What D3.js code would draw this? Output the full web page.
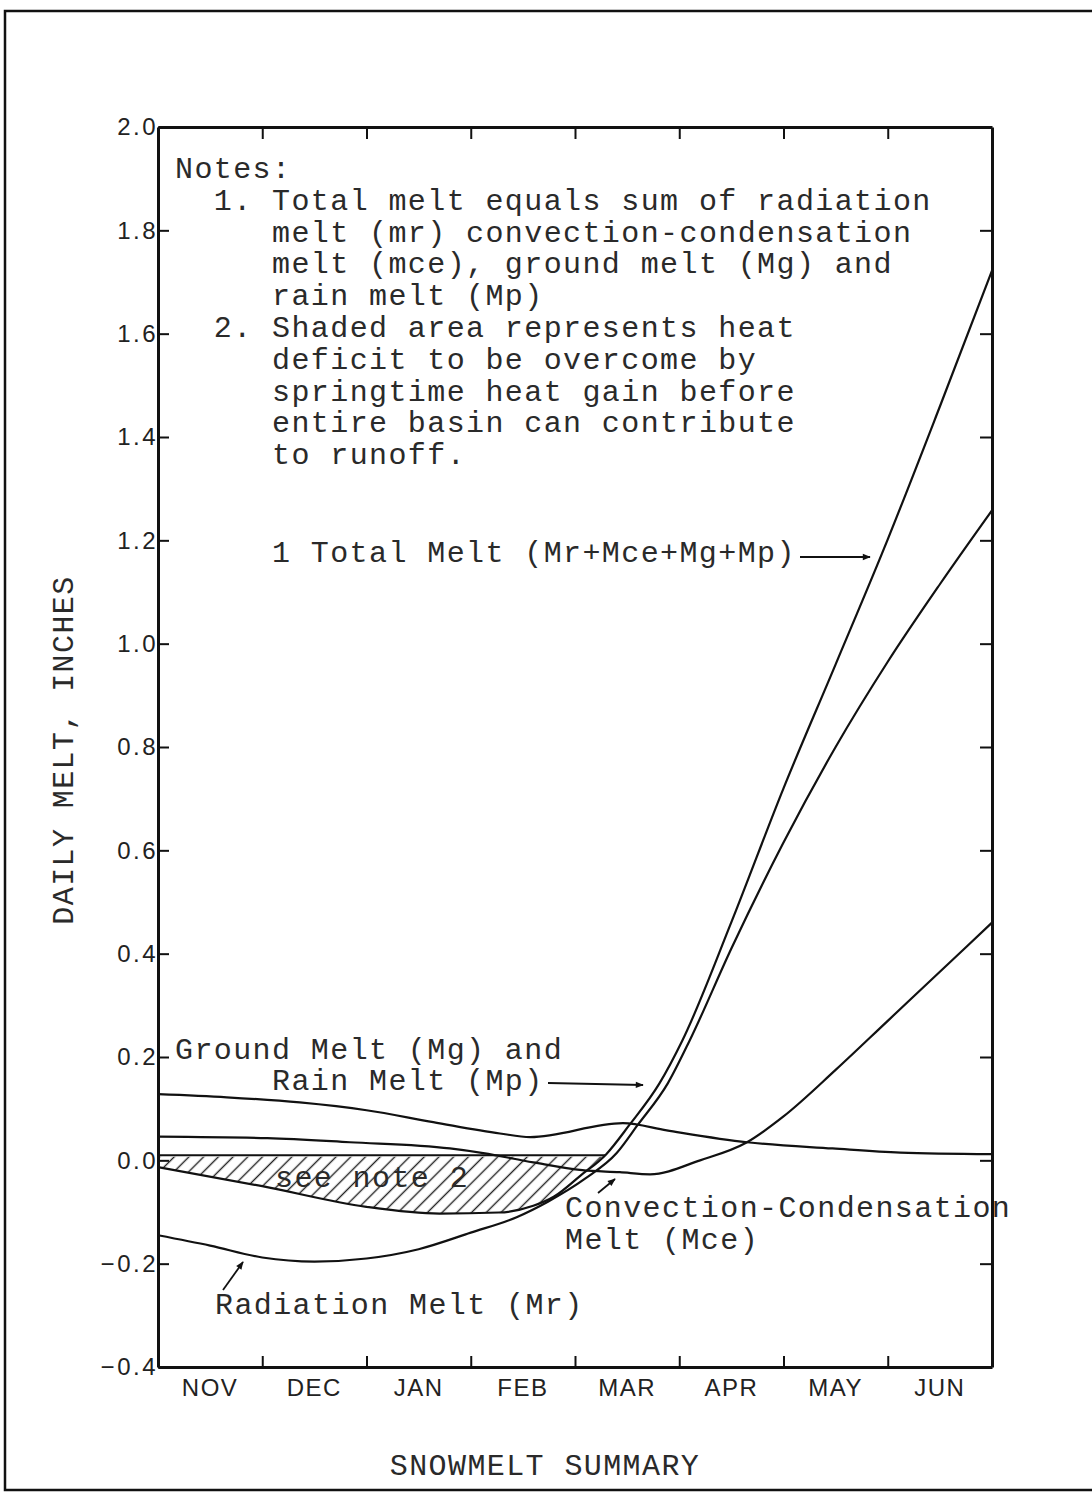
<!DOCTYPE html>
<html>
<head>
<meta charset="utf-8">
<script src="https://cdn.jsdelivr.net/npm/d3@7"></script>
<style>
  body { margin: 0; background: #fff; }
  svg { display: block; }
  .mono {
    font-family: "Liberation Mono", "DejaVu Sans Mono", monospace;
    font-size: 30px;
    letter-spacing: 1.4px;
    white-space: pre;
    fill: #2a2a2a;
  }
  .sans { font-family: "Liberation Sans", Arial, sans-serif; fill: #222; }
</style>
</head>
<body>
<div id="chart"></div>
<script>
// months run from start of NOV (0) to end of JUN (8)
const months = ["NOV", "DEC", "JAN", "FEB", "MAR", "APR", "MAY", "JUN"];
const monthEdges = [1, 2, 3, 4, 5, 6, 7];
const yTicks = [-0.4, -0.2, 0, 0.2, 0.4, 0.6, 0.8, 1.0, 1.2, 1.4, 1.6, 1.8, 2.0];

// ground melt + rain melt (Mg + Mp)
const groundRain = [
  [0, 0.128], [0.66, 0.122], [1.36, 0.112], [2.0, 0.097], [2.64, 0.074],
  [3.28, 0.052], [3.57, 0.045], [4.46, 0.072], [4.88, 0.058], [5.65, 0.035],
  [6.47, 0.023], [7.12, 0.015], [8, 0.012]
];
// convection-condensation melt (Mce)
const convection = [
  [0, 0.046], [1.05, 0.043], [1.84, 0.035], [2.8, 0.023], [3.12, 0.014],
  [3.6, -0.004], [4.07, -0.019], [4.43, -0.023], [4.72, -0.027], [5.2, 0.0],
  [5.65, 0.035], [6.0, 0.085], [6.5, 0.175], [7.0, 0.27], [7.5, 0.365], [8, 0.46]
];
// radiation melt (Mr)
const radiation = [
  [0, -0.145], [0.5, -0.165], [1.0, -0.188], [1.5, -0.196], [2.0, -0.19],
  [2.5, -0.172], [3.0, -0.14], [3.44, -0.11], [3.74, -0.08], [4.1, -0.035],
  [4.4, 0.014], [4.6, 0.068], [4.89, 0.149], [5.1, 0.232], [5.5, 0.41],
  [6.0, 0.615], [6.5, 0.8], [7.0, 0.965], [7.5, 1.115], [8, 1.258]
];
// total melt (Mr + Mce + Mg + Mp)
const total = [
  [0, -0.013], [1.0, -0.05], [2.0, -0.09], [2.7, -0.103], [3.27, -0.101],
  [3.6, -0.088], [3.8, -0.07], [4.05, -0.03], [4.3, 0.012], [4.52, 0.068],
  [4.81, 0.149], [5.03, 0.232], [5.5, 0.461], [6.0, 0.72], [6.5, 0.96],
  [7.0, 1.202], [7.5, 1.459], [8, 1.722]
];
const hatchTop = 0.01;

const notes = [
  "Notes:",
  "  1. Total melt equals sum of radiation",
  "     melt (mr) convection-condensation",
  "     melt (mce), ground melt (Mg) and",
  "     rain melt (Mp)",
  "  2. Shaded area represents heat",
  "     deficit to be overcome by",
  "     springtime heat gain before",
  "     entire basin can contribute",
  "     to runoff."
];

const width = 1092, height = 1496;
const svg = d3.select("#chart").append("svg")
  .attr("width", width)
  .attr("height", height);

const x = d3.scaleLinear().domain([0, 8]).range([158, 992]);
const y = d3.scaleLinear().domain([-0.4, 2.0]).range([1367, 127]);

const defs = svg.append("defs");
defs.append("pattern")
  .attr("id", "hatch")
  .attr("patternUnits", "userSpaceOnUse")
  .attr("width", 10.4)
  .attr("height", 10.4)
  .attr("patternTransform", "rotate(45)")
  .append("line")
  .attr("x1", 5.2).attr("y1", 0).attr("x2", 5.2).attr("y2", 10.4)
  .attr("stroke", "#222")
  .attr("stroke-width", 1.4);

defs.append("clipPath").attr("id", "below0")
  .append("rect")
  .attr("x", x(0)).attr("y", y(hatchTop) + 1.5)
  .attr("width", x(8) - x(0)).attr("height", y(-0.4) - y(hatchTop));

defs.append("marker")
  .attr("id", "arrow")
  .attr("viewBox", "0 0 10 10")
  .attr("refX", 9).attr("refY", 5)
  .attr("markerWidth", 11).attr("markerHeight", 8)
  .attr("markerUnits", "userSpaceOnUse")
  .attr("orient", "auto")
  .append("path").attr("d", "M0,1L10,5L0,9Z").attr("fill", "#111");

// outer frame (right edge runs off the page)
svg.append("rect")
  .attr("x", 5).attr("y", 11)
  .attr("width", 1130).attr("height", 1479)
  .attr("fill", "none").attr("stroke", "#111").attr("stroke-width", 2.5);

// shaded heat deficit
const area = d3.area()
  .curve(d3.curveMonotoneX)
  .x((d) => x(d[0]))
  .y0(y(hatchTop))
  .y1((d) => y(d[1]));
svg.append("path")
  .datum(total)
  .attr("d", area)
  .attr("fill", "url(#hatch)")
  .attr("clip-path", "url(#below0)");

// where the total melt curve crosses the top of the shaded area
let hatchEnd = 0;
for (let i = 1; i < total.length; i++) {
  const [x0, v0] = total[i - 1], [x1, v1] = total[i];
  if (v0 < hatchTop && v1 >= hatchTop) {
    hatchEnd = x0 + (x1 - x0) * (hatchTop - v0) / (v1 - v0);
    break;
  }
}
svg.append("line")
  .attr("x1", x(0)).attr("x2", x(hatchEnd))
  .attr("y1", y(hatchTop)).attr("y2", y(hatchTop))
  .attr("stroke", "#111").attr("stroke-width", 2);

// curves
const line = d3.line()
  .curve(d3.curveMonotoneX)
  .x((d) => x(d[0]))
  .y((d) => y(d[1]));
svg.selectAll(".curve")
  .data([groundRain, convection, radiation, total])
  .join("path")
  .attr("class", "curve")
  .attr("d", line)
  .attr("fill", "none")
  .attr("stroke", "#111")
  .attr("stroke-width", 2.2);

// axes, ticks point inward
function styleAxis(g) {
  g.attr("font-family", null).attr("font-size", null);
  g.select(".domain").attr("stroke", "#111").attr("stroke-width", 3);
  g.selectAll(".tick line").attr("stroke", "#111").attr("stroke-width", 2);
}
svg.append("g")
  .attr("transform", `translate(${x(0)},0)`)
  .call(d3.axisLeft(y).tickValues(yTicks).tickSize(-11).tickSizeOuter(0)
    .tickPadding(0).tickFormat(d3.format(".1f")))
  .call(styleAxis)
  .call((g) => g.selectAll("text")
    .attr("class", "sans")
    .style("font-size", "24px")
    .style("letter-spacing", "2.5px"));
svg.append("g")
  .attr("transform", `translate(${x(8)},0)`)
  .call(d3.axisRight(y).tickValues(yTicks.slice(1, -1)).tickSize(-12)
    .tickSizeOuter(0).tickFormat(""))
  .call(styleAxis);
svg.append("g")
  .attr("transform", `translate(0,${y(2.0)})`)
  .call(d3.axisTop(x).tickValues(monthEdges).tickSize(-12)
    .tickSizeOuter(0).tickFormat(""))
  .call(styleAxis);
svg.append("g")
  .attr("transform", `translate(0,${y(-0.4)})`)
  .call(d3.axisBottom(x).tickValues(monthEdges).tickSize(-11)
    .tickSizeOuter(0).tickFormat(""))
  .call(styleAxis);

svg.selectAll(".month")
  .data(months)
  .join("text")
  .attr("class", "sans month")
  .attr("x", (d, i) => x(i + 0.5))
  .attr("y", 1396)
  .attr("text-anchor", "middle")
  .style("font-size", "24px")
  .style("letter-spacing", "1.5px")
  .text((d) => d);

// typed labels
svg.append("g")
  .selectAll("text")
  .data(notes)
  .join("text")
  .attr("class", "mono")
  .attr("x", 175)
  .attr("y", (d, i) => 178 + i * 31.8)
  .text((d) => d);

const labels = [
  { t: "1 Total Melt (Mr+Mce+Mg+Mp)", x: 272, y: 562 },
  { t: "Ground Melt (Mg) and", x: 175, y: 1059 },
  { t: "Rain Melt (Mp)", x: 272, y: 1090 },
  { t: "see note 2", x: 275, y: 1187 },
  { t: "Convection-Condensation", x: 565, y: 1217 },
  { t: "Melt (Mce)", x: 565, y: 1249 },
  { t: "Radiation Melt (Mr)", x: 215, y: 1314 }
];
svg.append("g")
  .selectAll("text")
  .data(labels)
  .join("text")
  .attr("class", "mono")
  .attr("x", (d) => d.x)
  .attr("y", (d) => d.y)
  .text((d) => d.t);

const arrows = [
  [800, 557, 870, 557],
  [548, 1083, 643, 1085],
  [223, 1290, 243, 1262],
  [598, 1193, 615, 1179]
];
svg.append("g")
  .selectAll("line")
  .data(arrows)
  .join("line")
  .attr("x1", (d) => d[0]).attr("y1", (d) => d[1])
  .attr("x2", (d) => d[2]).attr("y2", (d) => d[3])
  .attr("stroke", "#111")
  .attr("stroke-width", 1.8)
  .attr("marker-end", "url(#arrow)");

svg.append("text")
  .attr("class", "mono")
  .attr("transform", "translate(73,750) rotate(-90)")
  .attr("text-anchor", "middle")
  .text("DAILY MELT, INCHES");

svg.append("text")
  .attr("class", "mono")
  .attr("x", 545)
  .attr("y", 1475)
  .attr("text-anchor", "middle")
  .text("SNOWMELT SUMMARY");
</script>
</body>
</html>
